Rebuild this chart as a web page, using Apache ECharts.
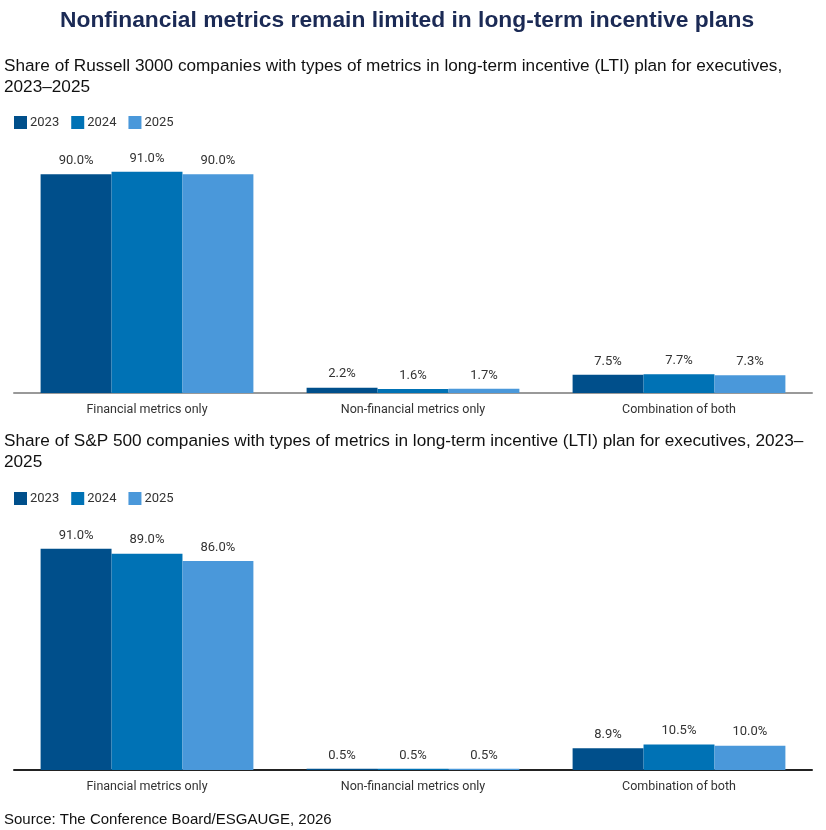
<!DOCTYPE html>
<html>
<head>
<meta charset="utf-8">
<script src="https://cdn.jsdelivr.net/npm/echarts@6/dist/echarts.min.js"></script>
<style>
  html, body { margin: 0; padding: 0; background: #fff; }
  #chart { width: 826px; height: 830px; }
</style>
</head>
<body>
<div id="chart"></div>
<script>
// categories and values
const categories = ['Financial metrics only', 'Non-financial metrics only', 'Combination of both'];
const years = ['2023', '2024', '2025'];
const russell2023 = [90.0, 2.2, 7.5];
const russell2024 = [91.0, 1.6, 7.7];
const russell2025 = [90.0, 1.7, 7.3];
const sp2023 = [91.0, 0.5, 8.9];
const sp2024 = [89.0, 0.5, 10.5];
const sp2025 = [86.0, 0.5, 10.0];

const colors = ['#004f8b', '#0072b5', '#4a98da'];
const labelFont = 'Roboto, "Noto Sans", sans-serif';
const arial = '"Liberation Sans", Arial, sans-serif';

function makeSeries(name, data, idx) {
  return {
    name: name,
    type: 'bar',
    xAxisIndex: idx,
    yAxisIndex: idx,
    data: data,
    barGap: '0%',
    barCategoryGap: '20%',
    label: {
      show: true,
      position: 'top',
      distance: 7,
      color: '#333',
      fontFamily: labelFont,
      fontSize: 13,
      formatter: function (p) { return p.value.toFixed(1) + '%'; }
    },
    emphasis: { disabled: true }
  };
}

function legendAt(top) {
  return {
    top: top,
    left: 14,
    padding: 0,
    itemWidth: 13,
    itemHeight: 13,
    itemGap: 12,
    icon: 'rect',
    textStyle: { fontFamily: labelFont, fontSize: 13, color: '#333', padding: [0, 0, 0, -2] },
    data: years
  };
}

function xAxisFor(idx, lineColor) {
  return {
    type: 'category',
    gridIndex: idx,
    data: categories,
    axisTick: { show: false },
    axisLine: { lineStyle: { color: lineColor, width: 2 } },
    axisLabel: { color: '#333', fontFamily: labelFont, fontSize: 12.5, margin: 10 }
  };
}

function yAxisFor(idx) {
  return { type: 'value', gridIndex: idx, min: 0, max: 100, show: false };
}

const chart = echarts.init(document.getElementById('chart'), null, { renderer: 'canvas' });

chart.setOption({
  animation: false,
  color: colors,
  title: [
    {
      text: 'Nonfinancial metrics remain limited in long-term incentive plans',
      left: 60,
      top: 9,
      padding: 0,
      textStyle: { fontFamily: arial, fontWeight: 'bold', fontSize: 22.8, color: '#1b2a55' }
    },
    {
      text: 'Share of Russell 3000 companies with types of metrics in long-term incentive (LTI) plan for executives,\n2023\u20132025',
      left: 4,
      top: 56,
      padding: 0,
      textStyle: { fontFamily: arial, fontWeight: 'normal', fontSize: 17.2, color: '#111', lineHeight: 21 }
    },
    {
      text: 'Share of S&P 500 companies with types of metrics in long-term incentive (LTI) plan for executives, 2023\u2013\n2025',
      left: 4,
      top: 431,
      padding: 0,
      textStyle: { fontFamily: arial, fontWeight: 'normal', fontSize: 17.2, color: '#111', lineHeight: 21 }
    },
    {
      text: 'Source: The Conference Board/ESGAUGE, 2026',
      left: 4,
      top: 812,
      padding: 0,
      textStyle: { fontFamily: arial, fontWeight: 'normal', fontSize: 15, color: '#111' }
    }
  ],
  legend: [legendAt(116), legendAt(492)],
  grid: [
    { left: 14, right: 14, top: 150, bottom: 437, containLabel: false },
    { left: 14, right: 14, top: 527, bottom: 60, containLabel: false }
  ],
  xAxis: [xAxisFor(0, '#999'), xAxisFor(1, '#222')],
  yAxis: [yAxisFor(0), yAxisFor(1)],
  series: [
    makeSeries('2023', russell2023, 0),
    makeSeries('2024', russell2024, 0),
    makeSeries('2025', russell2025, 0),
    makeSeries('2023', sp2023, 1),
    makeSeries('2024', sp2024, 1),
    makeSeries('2025', sp2025, 1)
  ]
});
</script>
</body>
</html>
